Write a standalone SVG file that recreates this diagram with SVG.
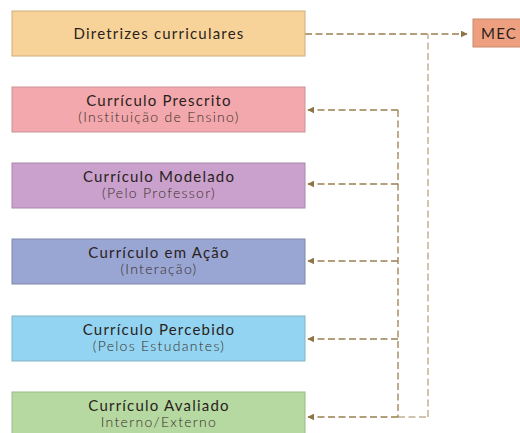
<svg xmlns="http://www.w3.org/2000/svg" width="520" height="433" viewBox="0 0 520 433">
<defs>
<style>
.box{stroke-width:1}
.t{font-family:"Lato","Open Sans",sans-serif;font-size:15px;fill:#2a1f1c;text-anchor:middle;letter-spacing:1.2px}
.s{font-family:"Lato","Open Sans",sans-serif;font-size:14px;font-weight:300;fill:#3a2e28;text-anchor:middle;letter-spacing:1.3px}
.d{fill:none;stroke:#9a7f52;stroke-width:1.3;stroke-dasharray:7,3.5}
.o{fill:none;stroke:#c2b091;stroke-width:1.5;stroke-dasharray:7,3.5}
</style>
<marker id="ah" viewBox="0 0 10 10" refX="9" refY="5" markerWidth="7" markerHeight="7" markerUnits="userSpaceOnUse" orient="auto">
<path d="M0,0 L10,5 L0,10 Z" fill="#8f7546"/>
</marker>
</defs>
<rect width="520" height="433" fill="#ffffff"/>
<g id="connectors">
<path class="o" d="M428,417 V34"/>
<path class="o" d="M398,417 H428"/>
<path class="d" d="M305,34 H467" marker-end="url(#ah)"/>
<path class="d" d="M398,110 V417"/>
<path class="d" d="M398,110 H308" marker-end="url(#ah)"/>
<path class="d" d="M398,184 H308" marker-end="url(#ah)"/>
<path class="d" d="M398,261 H308" marker-end="url(#ah)"/>
<path class="d" d="M398,339 H308" marker-end="url(#ah)"/>
<path class="d" d="M398,417 H308" marker-end="url(#ah)"/>
</g>
<g id="diretrizes">
<rect class="box" x="12" y="11" width="293" height="45" fill="#f8d399" stroke="#cdae7e"/>
<text class="t" x="159" y="39" font-size="16" letter-spacing="1.5">Diretrizes curriculares</text>
</g>
<g id="mec">
<rect class="box" x="473" y="19" width="52" height="28" fill="#ee9f80" stroke="#c98a6c"/>
<text class="t" x="499" y="38.5" font-size="16" letter-spacing="1">MEC</text>
</g>
<g id="prescrito">
<rect class="box" x="12" y="87" width="293" height="45" fill="#f2a8ac" stroke="#c99296"/>
<text class="t" x="159" y="106">Currículo Prescrito</text>
<text class="s" x="159" y="122">(Instituição de Ensino)</text>
</g>
<g id="modelado">
<rect class="box" x="12" y="163" width="293" height="45" fill="#c9a1cc" stroke="#a987ab"/>
<text class="t" x="159" y="182">Currículo Modelado</text>
<text class="s" x="159" y="198">(Pelo Professor)</text>
</g>
<g id="acao">
<rect class="box" x="12" y="239" width="293" height="45" fill="#99a5d3" stroke="#7f89ad"/>
<text class="t" x="159" y="258">Currículo em Ação</text>
<text class="s" x="159" y="274">(Interação)</text>
</g>
<g id="percebido">
<rect class="box" x="12" y="316" width="293" height="45" fill="#92d4f1" stroke="#86b3c5"/>
<text class="t" x="159" y="335">Currículo Percebido</text>
<text class="s" x="159" y="351">(Pelos Estudantes)</text>
</g>
<g id="avaliado">
<rect class="box" x="12" y="392" width="293" height="45" fill="#b6d8a1" stroke="#9cb98a"/>
<text class="t" x="159" y="411">Currículo Avaliado</text>
<text class="s" x="159" y="427">Interno/Externo</text>
</g>
</svg>
